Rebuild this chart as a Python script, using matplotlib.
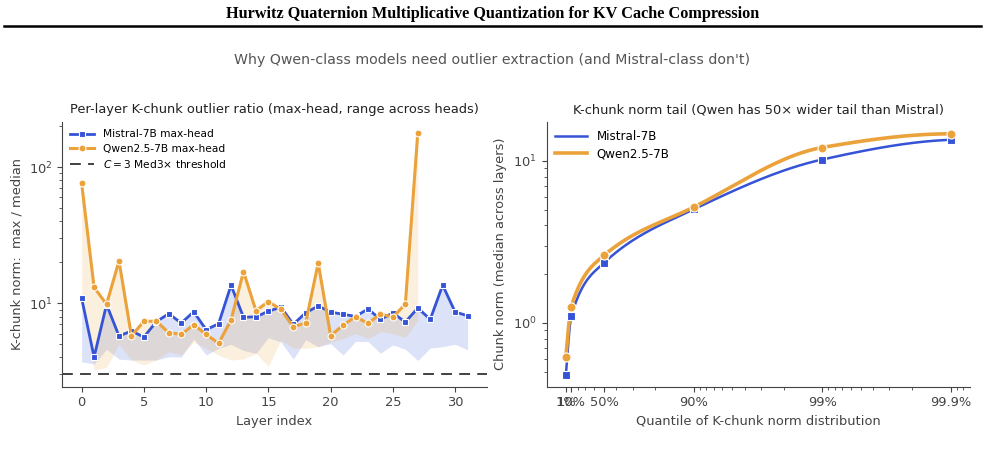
import numpy as np
import matplotlib
matplotlib.use("Agg")
import matplotlib.pyplot as plt
from matplotlib.lines import Line2D

# ---- data ----
layers_mistral = list(range(32))
mistral_max = [10.9, 4.03, 9.8, 5.75, 6.26, 5.65, 7.33, 8.39, 7.16, 8.67,
               6.40, 7.08, 13.6, 7.89, 7.97, 8.73, 9.39, 7.01, 8.53, 9.55,
               8.63, 8.30, 8.02, 9.08, 7.63, 8.49, 7.28, 9.23, 7.63, 13.6,
               8.63, 8.11]
mistral_min = [3.72, 3.58, 4.6, 3.89, 3.83, 3.83, 3.83, 4.05, 4.03, 5.47,
               4.17, 4.67, 5.0, 4.5, 4.29, 5.6, 5.2, 3.89, 5.4, 4.8,
               5.05, 4.17, 5.25, 5.25, 4.3, 4.95, 4.6, 3.8, 4.7, 4.8,
               5.0, 4.55]

layers_qwen = list(range(28))
qwen_max = [76.2, 13.1, 9.84, 20.5, 5.75, 7.38, 7.38, 6.08, 5.92, 6.96,
            5.92, 5.08, 7.54, 17.1, 8.83, 10.3, 9.03, 6.70, 7.20, 19.8,
            5.78, 6.92, 7.97, 7.13, 8.34, 7.93, 9.84, 179.5]
qwen_min = [12.0, 3.24, 3.38, 5.0, 3.83, 3.52, 3.83, 4.41, 4.17, 5.2,
            4.67, 4.17, 3.83, 3.9, 4.29, 3.45, 5.37, 4.67, 4.67, 4.8,
            5.2, 5.5, 6.0, 5.5, 6.2, 6.0, 5.6, 7.5]

threshold = 3.0

quantiles = [0.01, 0.10, 0.50, 0.90, 0.99, 0.999]
quantile_labels = ["1%", "10%", "50%", "90%", "99%", "99.9%"]
mistral_tail = [0.48, 1.10, 2.35, 5.03, 10.2, 13.5]
qwen_tail = [0.62, 1.26, 2.61, 5.19, 12.1, 14.7]

BLUE = "#3553d6"
ORANGE = "#eba23a"
GREY = "#444444"
FS = 9.4


def pchip_curve(x, y, n=300):
    # monotone cubic through the points, only used to draw a smooth line
    x = np.asarray(x, float)
    y = np.asarray(y, float)
    h = np.diff(x)
    delta = np.diff(y) / h
    d = np.zeros_like(y)
    for k in range(1, len(x) - 1):
        if delta[k - 1] * delta[k] > 0:
            w1 = 2 * h[k] + h[k - 1]
            w2 = h[k] + 2 * h[k - 1]
            d[k] = (w1 + w2) / (w1 / delta[k - 1] + w2 / delta[k])
    d[0] = ((2 * h[0] + h[1]) * delta[0] - h[0] * delta[1]) / (h[0] + h[1])
    if np.sign(d[0]) != np.sign(delta[0]):
        d[0] = 0
    d[-1] = ((2 * h[-1] + h[-2]) * delta[-1] - h[-1] * delta[-2]) / (h[-1] + h[-2])
    if np.sign(d[-1]) != np.sign(delta[-1]):
        d[-1] = 0
    xs = np.linspace(x[0], x[-1], n)
    idx = np.clip(np.searchsorted(x, xs) - 1, 0, len(x) - 2)
    t = (xs - x[idx]) / h[idx]
    h00 = 2 * t**3 - 3 * t**2 + 1
    h10 = t**3 - 2 * t**2 + t
    h01 = -2 * t**3 + 3 * t**2
    h11 = t**3 - t**2
    ys = h00 * y[idx] + h10 * h[idx] * d[idx] + h01 * y[idx + 1] + h11 * h[idx] * d[idx + 1]
    return xs, ys


plt.rcParams['font.family'] = 'DejaVu Sans'
plt.rcParams['axes.edgecolor'] = GREY
plt.rcParams['xtick.color'] = GREY
plt.rcParams['ytick.color'] = GREY
plt.rcParams['xtick.labelcolor'] = GREY
plt.rcParams['ytick.labelcolor'] = GREY
plt.rcParams['axes.labelcolor'] = GREY

fig = plt.figure(figsize=(9.85, 4.49), dpi=100)

fig.text(0.5, 0.968, "Hurwitz Quaternion Multiplicative Quantization for KV Cache Compression",
         ha="center", va="center", fontsize=11.7, fontweight="bold",
         family="Liberation Serif", color="black")
fig.add_artist(Line2D([0.004, 0.996], [0.943, 0.943], color="black", lw=1.8,
                      transform=fig.transFigure))
fig.text(0.5, 0.866, "Why Qwen-class models need outlier extraction (and Mistral-class don't)",
         ha="center", va="center", fontsize=10.2, color="#555555")

# ---- left panel ----
ax1 = fig.add_axes([0.0633, 0.1388, 0.431, 0.590])
ax1.fill_between(layers_mistral, mistral_min, mistral_max, color=BLUE, alpha=0.17, lw=0)
ax1.fill_between(layers_qwen, qwen_min, qwen_max, color=ORANGE, alpha=0.17, lw=0)
ax1.plot(layers_mistral, mistral_max, color=BLUE, lw=2, marker="s", ms=5,
         mec="white", mew=0.8, label="Mistral-7B max-head", zorder=3)
ax1.plot(layers_qwen, qwen_max, color=ORANGE, lw=2.2, marker="o", ms=5,
         mec="white", mew=0.8, label="Qwen2.5-7B max-head", zorder=4)
ax1.axhline(threshold, color="#333333", lw=1.3, ls=(0, (6, 4)),
            label=r"$C=3$ Med3$\times$ threshold")
ax1.set_yscale("log")
ax1.set_ylim(2.44, 216)
ax1.set_xticks([0, 5, 10, 15, 20, 25, 30])
ax1.set_title("Per-layer K-chunk outlier ratio (max-head, range across heads)",
              fontsize=FS, color="#222222", pad=6)
ax1.set_xlabel("Layer index", fontsize=FS)
ax1.set_ylabel("K-chunk norm:  max / median", fontsize=FS)
ax1.legend(loc="upper left", frameon=False, fontsize=7.7, handlelength=2.3,
           borderaxespad=0.3, labelspacing=0.4)

# ---- right panel ----
ax2 = fig.add_axes([0.555, 0.1388, 0.4297, 0.590])
one_minus_q = [1 - q for q in quantiles]
u = [-np.log10(v) for v in one_minus_q]
for vals, col, lw, mk, ms, name in [
        (mistral_tail, BLUE, 1.8, "s", 5.5, "Mistral-7B"),
        (qwen_tail, ORANGE, 2.6, "o", 6.5, "Qwen2.5-7B")]:
    us, vs = pchip_curve(u, np.log10(vals))
    ax2.plot(10 ** (-us), 10 ** vs, color=col, lw=lw, label=name, zorder=3)
    ax2.plot(one_minus_q, vals, ls="none", marker=mk, ms=ms, color=col,
             mec="white", mew=0.8, zorder=4)
ax2.set_xscale("log")
ax2.set_yscale("log")
ax2.invert_xaxis()
ax2.set_xticks(one_minus_q)
ax2.set_xticklabels(quantile_labels)
ax2.set_title("K-chunk norm tail (Qwen has 50× wider tail than Mistral)",
              fontsize=FS, color="#222222", pad=6)
ax2.set_xlabel("Quantile of K-chunk norm distribution", fontsize=FS)
ax2.set_ylabel("Chunk norm (median across layers)", fontsize=FS)
ax2.legend(loc="upper left", frameon=False, fontsize=8.6, handlelength=2.7,
           borderaxespad=0.3, labelspacing=0.35)

for ax in (ax1, ax2):
    ax.spines["top"].set_visible(False)
    ax.spines["right"].set_visible(False)
    ax.tick_params(labelsize=FS)

fig.savefig("out.png", dpi=100)
